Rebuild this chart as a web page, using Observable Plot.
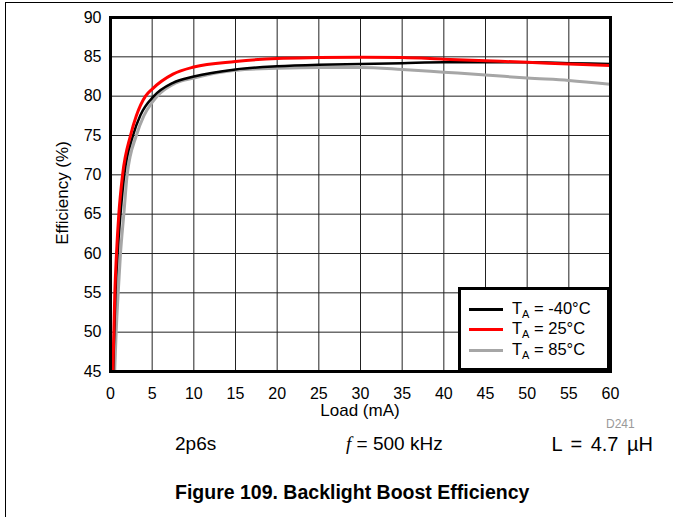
<!DOCTYPE html>
<html><head><meta charset="utf-8">
<script src="https://cdn.jsdelivr.net/npm/d3@7"></script>
<script src="https://cdn.jsdelivr.net/npm/@observablehq/plot@0.6"></script>
<style>
html,body{margin:0;padding:0;background:#fff;}
#page{position:relative;width:673px;height:517px;overflow:hidden;font-family:Arial,"Liberation Sans",sans-serif;}
#border{position:absolute;left:5px;top:2px;width:720px;height:620px;border-left:1px solid #000;border-top:1px solid #000;}
#chart{position:absolute;left:0;top:0;}
.t{position:absolute;white-space:nowrap;color:#000;line-height:1;}
#legend{position:absolute;left:458px;top:287px;width:152px;height:84px;box-sizing:border-box;border:3px solid #000;background:#fff;padding-top:9px;}
.row{display:flex;align-items:center;height:20.5px;font-size:16.5px;}
.sw{width:34px;height:0;margin-left:8px;margin-right:9px;}
</style>
</head><body>
<div id="page">
  <div id="border"></div>
  <div id="chart"></div>
  <div id="legend"></div>
  <div class="t" style="left:360px;top:410px;font-size:17px;transform:translate(-50%,-50%);">Load (mA)</div>
  <div class="t" style="left:62px;top:193px;font-size:17px;transform:translate(-50%,-50%) rotate(-90deg);">Efficiency (%)</div>
  <div class="t" style="left:606px;top:418px;font-size:12px;color:#999;">D241</div>
  <div class="t" style="left:175px;top:434px;font-size:19px;">2p6s</div>
  <div class="t" style="left:346px;top:434px;font-size:19px;"><i style="font-family:'Liberation Serif',serif;">f</i> = 500 kHz</div>
  <div class="t" style="right:20px;top:434px;font-size:20px;word-spacing:3px;">L = 4.7 µH</div>
  <div class="t" style="left:175px;top:483px;font-size:19.5px;font-weight:bold;">Figure 109. Backlight Boost Efficiency</div>
</div>
<script>
// Series: TA = -40°C (black)
const loadM40 = [0.32,0.45,0.6,0.85,1.2,1.65,2.7,3.6,5.2,7.5,10,15,20,25,30,35,40,45,50,55,60];
const effM40  = [45,50,55,60,65,70,75,77.6,80,81.7,82.5,83.4,83.8,84.0,84.1,84.2,84.3,84.3,84.3,84.2,84.1];
// Series: TA = 25°C (red)
const load25 = [0.28,0.4,0.52,0.72,1.0,1.45,2.4,3.1,4.2,5.0,7.5,10,15,20,25,30,35,40,45,50,55,60];
const eff25  = [45,50,55,60,65,70,75,77.5,80,80.9,82.8,83.7,84.4,84.8,84.9,84.95,84.9,84.7,84.5,84.3,84.1,83.9];
// Series: TA = 85°C (gray)
const load85 = [0.5,0.68,0.92,1.2,1.6,2.0,3.1,4.0,5.0,5.6,7.5,10,15,20,25,30,35,40,45,50,55,60];
const eff85  = [45,50,55,60,65,70,75,77.5,79.2,80,81.5,82.3,83.3,83.55,83.65,83.65,83.4,83.05,82.7,82.3,82.0,81.5];

const seriesNames  = ["T_A = -40°C", "T_A = 25°C", "T_A = 85°C"];
const seriesColors = ["#000000", "#ff0000", "#a6a6a6"];
const xTicks = [0,5,10,15,20,25,30,35,40,45,50,55,60];
const yTicks = [45,50,55,60,65,70,75,80,85,90];

const build = (xs, ys, s) => xs.map((x, i) => ({load: x, eff: ys[i], series: s}));
const dM40 = build(loadM40, effM40, seriesNames[0]);
const d25  = build(load25, eff25, seriesNames[1]);
const d85  = build(load85, eff85, seriesNames[2]);

const chart = Plot.plot({
  width: 673,
  height: 425,
  marginLeft: 110,
  marginRight: 63,
  marginTop: 17,
  marginBottom: 54,
  style: {fontFamily: "Arial, 'Liberation Sans', sans-serif", fontSize: "16px", color: "#000", background: "transparent"},
  x: {domain: [0, 60], ticks: xTicks},
  y: {domain: [45, 90], ticks: yTicks},
  marks: [
    Plot.gridX(xTicks, {stroke: "#222", strokeOpacity: 1, strokeWidth: 1}),
    Plot.gridY(yTicks, {stroke: "#222", strokeOpacity: 1, strokeWidth: 1}),
    Plot.line(d85, {x: "load", y: "eff", stroke: seriesColors[2], strokeWidth: 3, curve: "monotone-x", clip: true}),
    Plot.line(dM40, {x: "load", y: "eff", stroke: seriesColors[0], strokeWidth: 2.5, curve: "monotone-x", clip: true}),
    Plot.line(d25, {x: "load", y: "eff", stroke: seriesColors[1], strokeWidth: 3, curve: "monotone-x", clip: true}),
    Plot.frame({stroke: "#000", strokeWidth: 3}),
    Plot.axisX(xTicks, {tickSize: 0, tickPadding: 16, fontSize: 16, label: null}),
    Plot.axisY(yTicks, {tickSize: 0, tickPadding: 9, fontSize: 16, label: null})
  ]
});
document.getElementById("chart").appendChild(chart);

const legend = document.getElementById("legend");
seriesNames.forEach((name, i) => {
  const row = document.createElement("div");
  row.className = "row";
  const sw = document.createElement("div");
  sw.className = "sw";
  sw.style.borderTop = `3px solid ${seriesColors[i]}`;
  const lab = document.createElement("span");
  const [pre, post] = name.split("_A");
  lab.innerHTML = `${pre}<sub style="font-size:11px;vertical-align:-4px;">A</sub>${post}`;
  row.appendChild(sw);
  row.appendChild(lab);
  legend.appendChild(row);
});
</script>
</body></html>
